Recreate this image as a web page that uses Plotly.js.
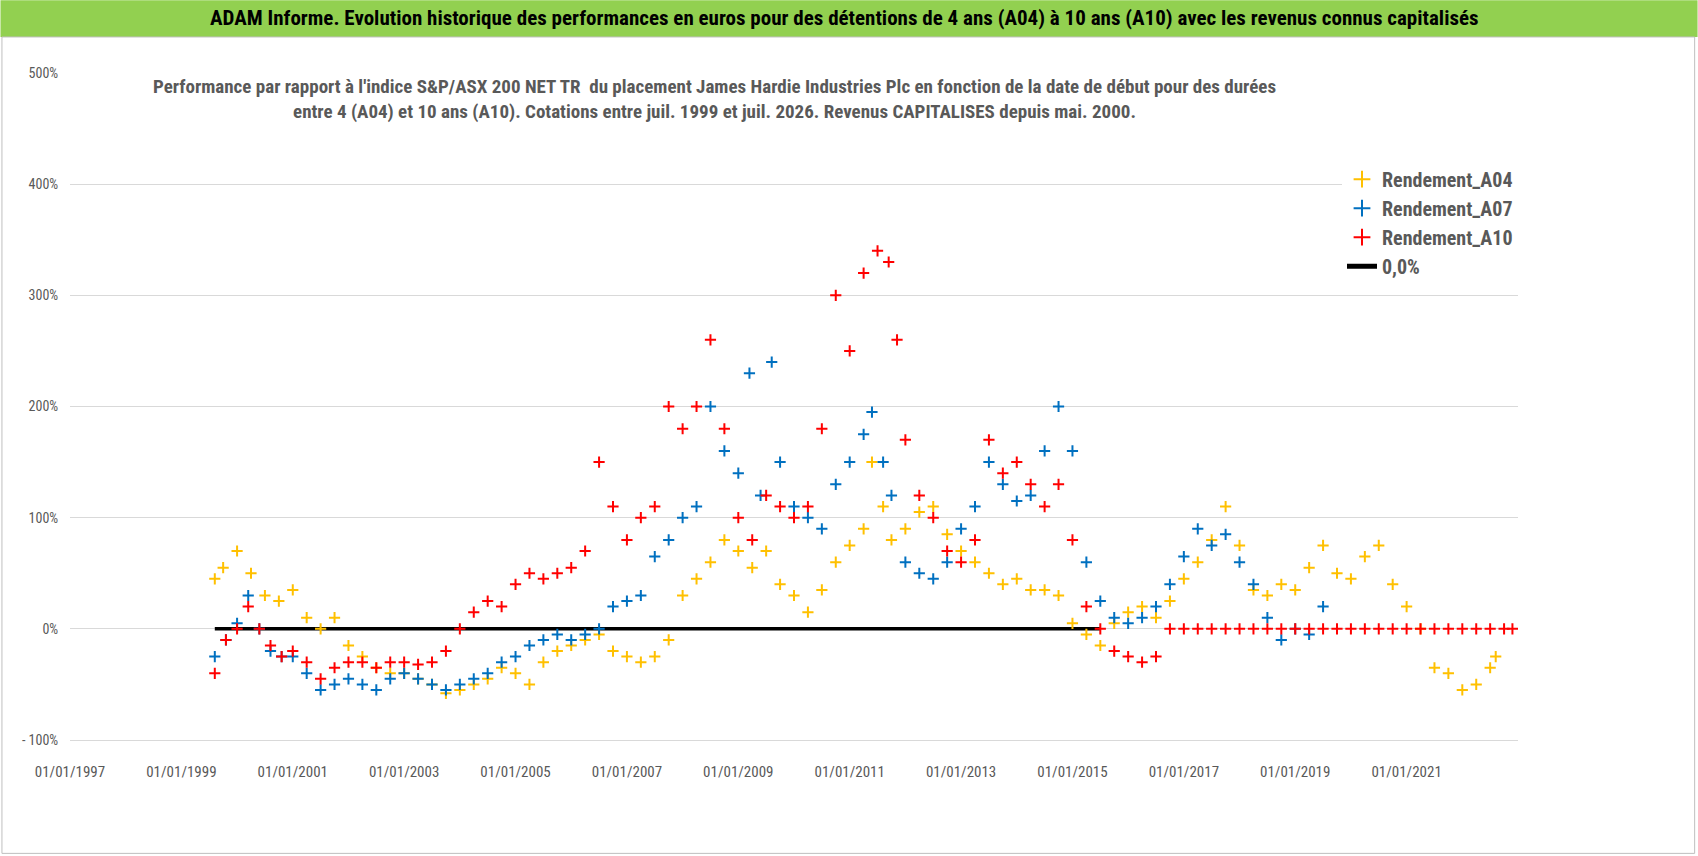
<!DOCTYPE html>
<html><head><meta charset="utf-8">
<script src="https://cdn.plot.ly/plotly-3.0.1.min.js"></script>
<style>body{margin:0;background:#fff}#c{width:1698px;height:856px}</style>
</head><body><div id="c"></div>
<script>
const a04x=[1999.6,1999.75,2000.0,2000.25,2000.5,2000.75,2001.0,2001.25,2001.5,2001.75,2002.0,2002.25,2002.5,2002.75,2003.0,2003.25,2003.5,2003.75,2004.0,2004.25,2004.5,2004.75,2005.0,2005.25,2005.5,2005.75,2006.0,2006.25,2006.5,2006.75,2007.0,2007.25,2007.5,2007.75,2008.0,2008.25,2008.5,2008.75,2009.0,2009.25,2009.5,2009.75,2010.0,2010.25,2010.5,2010.75,2011.0,2011.25,2011.4,2011.6,2011.75,2012.0,2012.25,2012.5,2012.75,2013.0,2013.25,2013.5,2013.75,2014.0,2014.25,2014.5,2014.75,2015.0,2015.25,2015.5,2015.75,2016.0,2016.25,2016.5,2016.75,2017.0,2017.25,2017.5,2017.75,2018.0,2018.25,2018.5,2018.75,2019.0,2019.25,2019.5,2019.75,2020.0,2020.25,2020.5,2020.75,2021.0,2021.25,2021.5,2021.75,2022.0,2022.25,2022.5,2022.6];
const a04y=[45,55,70,50,30,25,35,10,0,10,-15,-25,-35,-40,-40,-45,-50,-58,-55,-50,-45,-35,-40,-50,-30,-20,-15,-10,-5,-20,-25,-30,-25,-10,30,45,60,80,70,55,70,40,30,15,35,60,75,90,150,110,80,90,105,110,85,70,60,50,40,45,35,35,30,5,-5,-15,5,15,20,10,25,45,60,80,110,75,35,30,40,35,55,75,50,45,65,75,40,20,0,-35,-40,-55,-50,-35,-25];
const a07x=[1999.6,1999.8,2000.0,2000.2,2000.4,2000.6,2000.8,2001.0,2001.25,2001.5,2001.75,2002.0,2002.25,2002.5,2002.75,2003.0,2003.25,2003.5,2003.75,2004.0,2004.25,2004.5,2004.75,2005.0,2005.25,2005.5,2005.75,2006.0,2006.25,2006.5,2006.75,2007.0,2007.25,2007.5,2007.75,2008.0,2008.25,2008.5,2008.75,2009.0,2009.2,2009.4,2009.6,2009.75,2010.0,2010.25,2010.5,2010.75,2011.0,2011.25,2011.4,2011.6,2011.75,2012.0,2012.25,2012.5,2012.75,2013.0,2013.25,2013.5,2013.75,2014.0,2014.25,2014.5,2014.75,2015.0,2015.25,2015.5,2015.75,2016.0,2016.25,2016.5,2016.75,2017.0,2017.25,2017.5,2017.75,2018.0,2018.25,2018.5,2018.75,2019.0,2019.25,2019.5];
const a07y=[-25,-10,5,30,0,-20,-25,-25,-40,-55,-50,-45,-50,-55,-45,-40,-45,-50,-55,-50,-45,-40,-30,-25,-15,-10,-5,-10,-5,0,20,25,30,65,80,100,110,200,160,140,230,120,240,150,110,100,90,130,150,175,195,150,120,60,50,45,60,90,110,150,130,115,120,160,200,160,60,25,10,5,10,20,40,65,90,75,85,60,40,10,-10,0,-5,20];
const a10x=[1999.6,1999.8,2000.0,2000.2,2000.4,2000.6,2000.8,2001.0,2001.25,2001.5,2001.75,2002.0,2002.25,2002.5,2002.75,2003.0,2003.25,2003.5,2003.75,2004.0,2004.25,2004.5,2004.75,2005.0,2005.25,2005.5,2005.75,2006.0,2006.25,2006.5,2006.75,2007.0,2007.25,2007.5,2007.75,2008.0,2008.25,2008.5,2008.75,2009.0,2009.25,2009.5,2009.75,2010.0,2010.25,2010.5,2010.75,2011.0,2011.25,2011.5,2011.7,2011.85,2012.0,2012.25,2012.5,2012.75,2013.0,2013.25,2013.5,2013.75,2014.0,2014.25,2014.5,2014.75,2015.0,2015.25,2015.5,2015.75,2016.0,2016.25,2016.5,2016.75,2017.0,2017.25,2017.5,2017.75,2018.0,2018.25,2018.5,2018.75,2019.0,2019.25,2019.5,2019.75,2020.0,2020.25,2020.5,2020.75,2021.0,2021.25,2021.5,2021.75,2022.0,2022.25,2022.5,2022.75,2022.9];
const a10y=[-40,-10,0,20,0,-15,-25,-20,-30,-45,-35,-30,-30,-35,-30,-30,-32,-30,-20,0,15,25,20,40,50,45,50,55,70,150,110,80,100,110,200,180,200,260,180,100,80,120,110,100,110,180,300,250,320,340,330,260,170,120,100,70,60,80,170,140,150,130,110,130,80,20,0,-20,-25,-30,-25,0,0,0,0,0,0,0,0,0,0,0,0,0,0,0,0,0,0,0,0,0,0,0,0,0,0];
const zeroX=[1999.6,2015.5], zeroY=[0,0];
const tickYears=[1997,1999,2001,2003,2005,2007,2009,2011,2013,2015,2017,2019,2021];
const tickLabels=tickYears.map(y=>'01/01/'+y);
const yTicks=[-100,0,100,200,300,400,500];
const yLabels=['- 100%','0%','100%','200%','300%','400%','500%'];
const F='"Liberation Sans Narrow","Roboto Condensed","Liberation Sans",sans-serif';
const mk=c=>({symbol:'cross-thin',size:8,line:{color:c,width:2},color:c});
const data=[
 {x:zeroX,y:zeroY,mode:'lines',line:{color:'#000',width:3.5},name:'0,0%',showlegend:false},
 {x:a04x,y:a04y,mode:'markers',marker:mk('#FFC000'),name:'<b>Rendement_A04</b>'},
 {x:a07x,y:a07y,mode:'markers',marker:mk('#0070C0'),name:'<b>Rendement_A07</b>'},
 {x:a10x,y:a10y,mode:'markers',marker:mk('#FF0000'),name:'<b>Rendement_A10</b>'},
 {x:[null],y:[null],mode:'lines',line:{color:'#000',width:3.5},name:'<b>0,0%</b>'}
];
const layout={width:1698,height:856,margin:{l:70,r:180,t:73,b:116},
 paper_bgcolor:'#fff',plot_bgcolor:'#fff',font:{family:F,color:'#595959'},
 xaxis:{range:[1997,2023],tickvals:tickYears,ticktext:tickLabels,showgrid:false,zeroline:false,
   showline:true,linecolor:'#d9d9d9',tickfont:{size:15,color:'#595959'},ticks:'outside',ticklen:18,tickcolor:'rgba(0,0,0,0)'},
 yaxis:{range:[-100,500],tickvals:yTicks,ticktext:yLabels,gridcolor:'#d9d9d9',zeroline:false,
   tickfont:{size:14,color:'#595959'},ticks:'outside',ticklen:8,tickcolor:'rgba(0,0,0,0)'},
 legend:{x:1.0,xanchor:'right',y:0.87,yanchor:'top',bgcolor:'#fff',font:{size:20,color:'#595959',family:F},
   itemsizing:'constant',tracegroupgap:16,borderwidth:0},
 shapes:[
  {type:'rect',xref:'paper',yref:'paper',x0:-0.048,x1:1.124,y0:1.054,y1:1.109,fillcolor:'#92D050',line:{width:0},layer:'below'},
  {type:'rect',xref:'paper',yref:'paper',x0:-0.047,x1:1.122,y0:-0.17,y1:1.054,fillcolor:'rgba(0,0,0,0)',line:{width:1,color:'#bfbfbf'},layer:'below'}
 ],
 annotations:[
  {xref:'paper',yref:'paper',x:0.535,y:1.082,xanchor:'center',yanchor:'middle',showarrow:false,
   text:'<b>ADAM Informe. Evolution historique des performances en euros pour des détentions de 4 ans (A04) à 10 ans (A10) avec les revenus connus capitalisés</b>',
   font:{size:21,color:'#000',family:F}},
  {xref:'paper',yref:'paper',x:0.445,y:1.0,xanchor:'center',yanchor:'top',showarrow:false,align:'center',
   text:"<b>Performance par rapport à l'indice S&P/ASX 200 NET TR  du placement James Hardie Industries Plc en fonction de la date de début pour des durées<br>entre 4 (A04) et 10 ans (A10). Cotations entre juil. 1999 et juil. 2026. Revenus CAPITALISES depuis mai. 2000.</b>",
   font:{size:19,color:'#595959',family:F}}
 ]};
Plotly.newPlot('c',data,layout,{displayModeBar:false});
</script></body></html>
